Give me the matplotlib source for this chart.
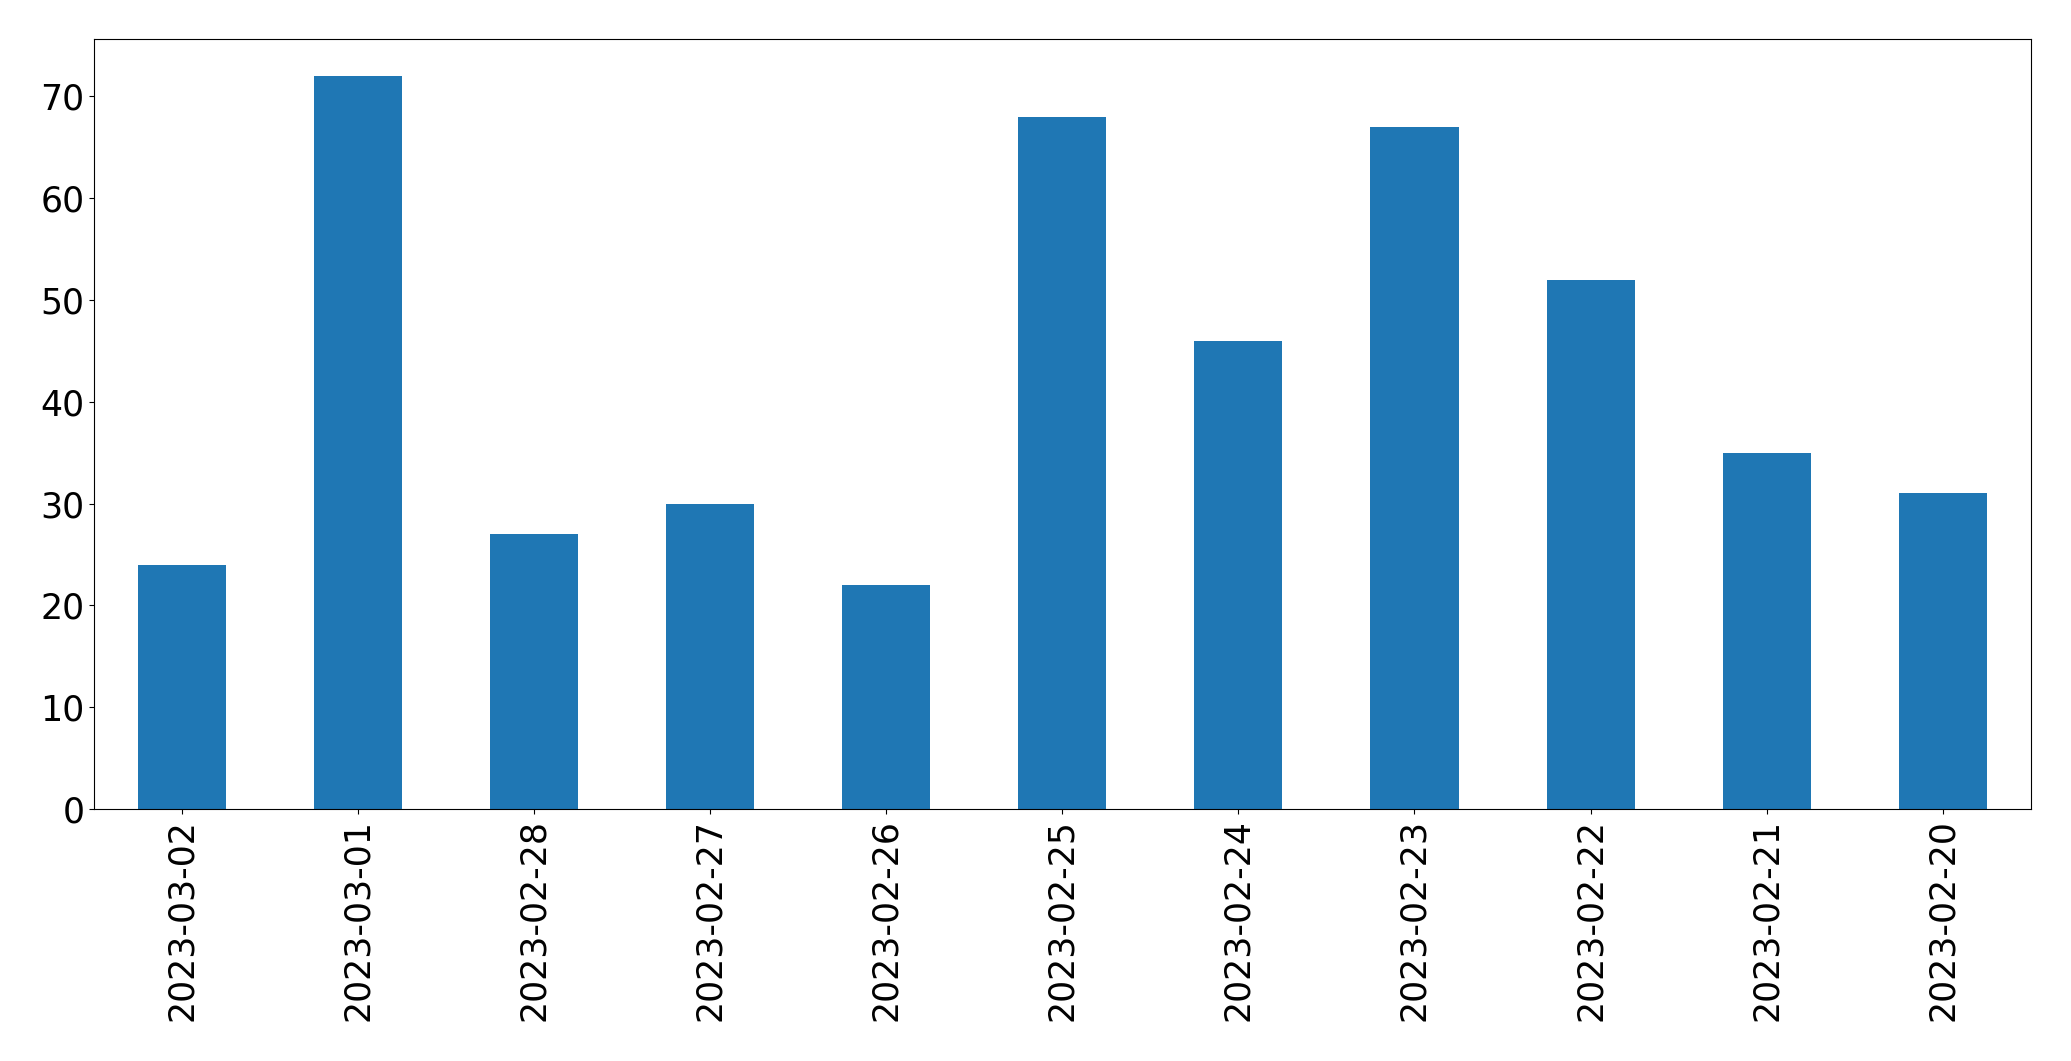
import matplotlib
matplotlib.use('Agg')
import matplotlib.pyplot as plt
import numpy as np

dates = ['2023-03-02', '2023-03-01', '2023-02-28', '2023-02-27', '2023-02-26',
         '2023-02-25', '2023-02-24', '2023-02-23', '2023-02-22', '2023-02-21',
         '2023-02-20']
counts = [24, 72, 27, 30, 22, 68, 46, 67, 52, 35, 31]

fig, ax = plt.subplots(figsize=(20.71, 10.61), dpi=100)
fig.subplots_adjust(left=0.0455, right=0.9805, top=0.963, bottom=0.2375)

x = np.arange(len(dates))
ax.bar(x, counts, width=0.5, color='#1f77b4')
ax.set_xlim(-0.5, len(dates) - 0.5)
ax.set_xticks(x)
ax.set_xticklabels(dates, rotation=90)
ax.tick_params(labelsize=25)

plt.savefig('out.png', dpi=100)
plt.close()
